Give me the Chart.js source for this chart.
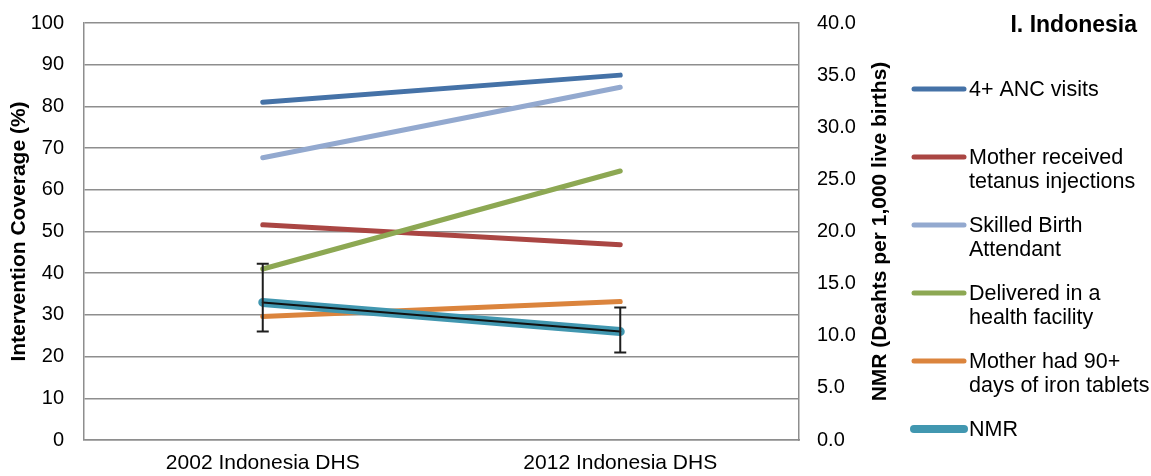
<!DOCTYPE html>
<html>
<head>
<meta charset="utf-8">
<script src="https://cdn.jsdelivr.net/npm/chart.js@4.4.1/dist/chart.umd.min.js"></script>
<style>
  body { margin: 0; background: #fff; }
  canvas { display: block; }
</style>
</head>
<body>
<canvas id="coverageChart" width="1151" height="476"></canvas>
<script>
// survey rounds
const categories = ['2002 Indonesia DHS', '2012 Indonesia DHS'];

// intervention coverage, percent (left axis)
const ancVisits = [81.0, 87.5];
const tetanus = [51.6, 46.8];
const skilledBirth = [67.7, 84.6];
const facilityDelivery = [41.0, 64.5];
const ironTablets = [29.6, 33.2];

// neonatal mortality, deaths per 1,000 live births (right axis)
const nmr = [13.2, 10.4];
const nmrLow = [10.4, 8.4];
const nmrHigh = [16.9, 12.7];

const leftTicks = [0, 10, 20, 30, 40, 50, 60, 70, 80, 90, 100];
const rightTicks = [0, 5, 10, 15, 20, 25, 30, 35, 40];

// legend text, one entry per series, split into lines
const legendNames = [
  ['4+ ANC visits'],
  ['Mother received', 'tetanus injections'],
  ['Skilled Birth', 'Attendant'],
  ['Delivered in a', 'health facility'],
  ['Mother had 90+', 'days of iron tablets'],
  ['NMR']
];

const colors = ['#4572A7', '#AA4643', '#93A9CF', '#8DA853', '#DB843D', '#4197B0'];
const gridGray = '#8e8e8e';
const FONT = 'Arial, "Liberation Sans", sans-serif';

function line(label, data, color, order, axis, width) {
  return {
    label: label,
    data: data,
    borderColor: color,
    backgroundColor: color,
    borderWidth: width || 5,
    borderCapStyle: 'round',
    pointRadius: 0,
    pointHoverRadius: 0,
    yAxisID: axis || 'y',
    order: order,
    tension: 0
  };
}

// keep the plot box where the layout padding puts it
function fixBox(s, w) {
  s.width = w;
  s.paddingTop = 0;
  s.paddingBottom = 0;
}

// error bars for NMR
const errorBars = {
  id: 'errorBars',
  afterDatasetsDraw(chart) {
    const ctx = chart.ctx;
    const xs = chart.scales.x;
    const ys = chart.scales.y1;
    ctx.save();
    ctx.strokeStyle = '#1e1e1e';
    ctx.lineWidth = 2;
    for (let i = 0; i < categories.length; i++) {
      const x = xs.getPixelForValue(i);
      const top = ys.getPixelForValue(nmrHigh[i]);
      const bot = ys.getPixelForValue(nmrLow[i]);
      ctx.beginPath();
      ctx.moveTo(x, top); ctx.lineTo(x, bot);
      ctx.moveTo(x - 6, top); ctx.lineTo(x + 6, top);
      ctx.moveTo(x - 6, bot); ctx.lineTo(x + 6, bot);
      ctx.stroke();
    }
    ctx.restore();
  }
};

// right axis title, panel title and legend
const sidePanel = {
  id: 'sidePanel',
  afterDraw(chart) {
    const ctx = chart.ctx;
    const area = chart.chartArea;
    ctx.save();

    ctx.fillStyle = '#000';
    ctx.font = 'bold 21px ' + FONT;
    ctx.textAlign = 'center';
    ctx.textBaseline = 'middle';
    ctx.translate(880, (area.top + area.bottom) / 2);
    ctx.rotate(-Math.PI / 2);
    ctx.fillText('NMR (Deahts per 1,000 live births)', 0, 0);
    ctx.setTransform(1, 0, 0, 1, 0, 0);

    ctx.font = 'bold 23px ' + FONT;
    ctx.textAlign = 'right';
    ctx.fillText('I. Indonesia', 1137, 26);

    ctx.font = '21.5px ' + FONT;
    ctx.textAlign = 'left';
    ctx.lineCap = 'round';
    legendNames.forEach((lines, i) => {
      const y = 89 + i * 68;
      ctx.strokeStyle = colors[i];
      ctx.lineWidth = i === 5 ? 8 : 5;
      ctx.beginPath();
      ctx.moveTo(914, y);
      ctx.lineTo(964, y);
      ctx.stroke();
      lines.forEach((t, j) => ctx.fillText(t, 969, y + 1 + j * 24.5));
    });
    ctx.restore();
  }
};

new Chart(document.getElementById('coverageChart'), {
  type: 'line',
  data: {
    labels: categories,
    datasets: [
      line('NMR', nmr, '#111', 0, 'y1', 2),
      line(legendNames[5].join(' '), nmr, colors[5], 1, 'y1', 9),
      line(legendNames[4].join(' '), ironTablets, colors[4], 2),
      line(legendNames[3].join(' '), facilityDelivery, colors[3], 3),
      line(legendNames[1].join(' '), tetanus, colors[1], 4),
      line(legendNames[2].join(' '), skilledBirth, colors[2], 5),
      line(legendNames[0].join(' '), ancVisits, colors[0], 6)
    ]
  },
  options: {
    responsive: false,
    animation: false,
    layout: { padding: { left: 0, right: 242, top: 23, bottom: 0 } },
    plugins: {
      legend: { display: false },
      tooltip: { enabled: false },
      title: { display: false }
    },
    scales: {
      x: {
        offset: true,
        grid: { drawOnChartArea: false, drawTicks: false },
        border: { display: true, color: gridGray, width: 1.5 },
        ticks: { color: '#000', font: { family: FONT, size: 21 }, padding: 11, maxRotation: 0 },
        afterFit(s) { s.height = 36; s.paddingLeft = 0; s.paddingRight = 0; }
      },
      y: {
        position: 'left',
        min: 0,
        max: 100,
        afterBuildTicks(s) { s.ticks = leftTicks.map(v => ({ value: v })); },
        grid: { color: gridGray, lineWidth: 1.5, drawTicks: false },
        border: { display: true, color: gridGray, width: 1.5 },
        ticks: { color: '#000', font: { family: FONT, size: 20 }, padding: 20 },
        title: {
          display: true,
          text: 'Intervention Coverage (%)',
          color: '#000',
          font: { family: FONT, size: 21, weight: 'bold' },
          padding: { top: 7, bottom: 0 }
        },
        afterFit(s) { fixBox(s, 84); }
      },
      y1: {
        position: 'right',
        min: 0,
        max: 40,
        afterBuildTicks(s) { s.ticks = rightTicks.map(v => ({ value: v })); },
        grid: { drawOnChartArea: false, drawTicks: false },
        border: { display: true, color: gridGray, width: 1.5 },
        ticks: {
          color: '#000',
          font: { family: FONT, size: 20 },
          padding: 18,
          callback: v => v.toFixed(1)
        },
        afterFit(s) { fixBox(s, 110); }
      }
    }
  },
  plugins: [errorBars, sidePanel]
});
</script>
</body>
</html>
